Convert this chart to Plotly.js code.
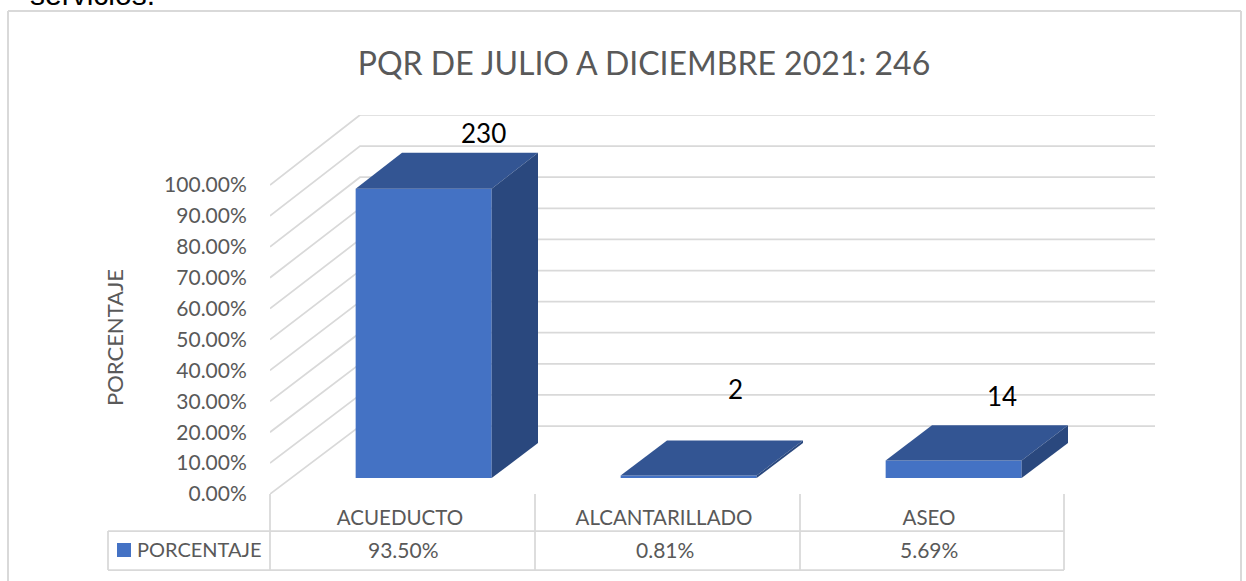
<!DOCTYPE html>
<html>
<head>
<meta charset="utf-8">
<script src="https://cdn.plot.ly/plotly-3.0.1.min.js"></script>
<style>html,body{margin:0;padding:0;background:#fff;overflow:hidden}#c{width:1246px;height:581px}</style>
</head>
<body>
<div id="c"></div>
<script>
// ---- data ----
const categories = ["ACUEDUCTO", "ALCANTARILLADO", "ASEO"];
const percentages = [93.50, 0.81, 5.69];
const counts = [230, 2, 14];
const tableLabels = ["93.50%", "0.81%", "5.69%"];
const gridValues = [0, 10, 20, 30, 40, 50, 60, 70, 80, 90, 100];
const gridLabels = ["0.00%", "10.00%", "20.00%", "30.00%", "40.00%", "50.00%", "60.00%", "70.00%", "80.00%", "90.00%", "100.00%"];
const seriesName = "PORCENTAJE";
const chartTitle = "PQR DE JULIO A DICIEMBRE 2021: 246";

// ---- layout geometry (pixels of the frame) ----
const W = 1246, H = 581;
const left = 270, floorY = 494, topY = 115, right = 1155;
const pxPerCat = 265, pxPerPct = 3.09;
const depthX = 90 / pxPerCat, depthY = 68 / pxPerPct, depthScale = 0.0065;
const barFront = 0.235, barBack = 0.75, barHalf = 0.2566;
const xMax = (right - left) / pxPerCat, yMax = (floorY - topY) / pxPerPct;

// oblique projection done in axis units
const px = (x, v, t) => x + t * depthX;
const py = (x, v, t) => v * (1 + depthScale * t) + t * depthY;
// page pixel -> axis / paper coordinates, for furniture outside the plot
const dataX = p => (p - left) / pxPerCat;
const paperY = p => (floorY - p) / (floorY - topY);
const paperX = p => (p - left) / (right - left);

const C = {front: "#4472C4", top: "#335593", side: "#2A487E", grid: "#D9D9D9", text: "#595959"};

function face(xs, vs, ts, color) {
  return {type: "scatter", mode: "none", fill: "toself", fillcolor: color, hoverinfo: "skip", showlegend: false,
    x: xs.map((x, i) => px(x, vs[i], ts[i])), y: xs.map((x, i) => py(x, vs[i], ts[i]))};
}

const traces = [{
  type: "bar", name: seriesName, showlegend: false,
  x: categories.map((c, i) => px(i + 0.5, 0, barFront)),
  y: percentages.map(v => py(0, v, barFront) - py(0, 0, barFront)),
  base: categories.map(() => py(0, 0, barFront)),
  width: barHalf * 2,
  marker: {color: C.front, line: {width: 0}}
}];
percentages.forEach((v, i) => {
  const a = i + 0.5 - barHalf, b = i + 0.5 + barHalf;
  traces.push(face([a, b, b, a, a], [v, v, v, v, v], [barFront, barFront, barBack, barBack, barFront], C.top));
  traces.push(face([b, b, b, b, b], [0, v, v, 0, 0], [barFront, barFront, barBack, barBack, barFront], C.side));
});

const shapes = [];
gridValues.forEach(v => {
  const path = [[0, v, 0], [0, v, 1], [3, v, 1]].map(
    (p, k) => (k ? "L" : "M") + px(p[0], p[1], p[2]) + "," + py(p[0], p[1], p[2])).join(" ");
  shapes.push({type: "path", layer: "below", xref: "x", yref: "y", path: path, line: {color: C.grid, width: 1.75}});
});
function rule(x0, y0, x1, y1, w) {
  shapes.push({type: "line", layer: "below", xref: "paper", yref: "paper",
    x0: paperX(x0), x1: paperX(x1), y0: paperY(y0), y1: paperY(y1), line: {color: C.grid, width: w || 1.75}});
}
[270, 535, 800, 1064].forEach(x => rule(x, 494, x, 570));
rule(108, 531, 1064, 531); rule(108, 570, 1064, 570); rule(108, 531, 108, 570);
rule(8, 11, 1241, 11, 2); rule(8, 11, 8, 581, 2); rule(1241, 11, 1241, 581, 2);
shapes.push({type: "rect", xref: "paper", yref: "paper", layer: "above", line: {width: 0}, fillcolor: C.front,
  x0: paperX(117), x1: paperX(131), y0: paperY(543), y1: paperY(557)});

const FONT = "Lato, 'Open Sans', sans-serif";
const annotations = [];
function note(text, x, y, size, color, extra) {
  annotations.push(Object.assign({text: text, xref: "paper", yref: "paper", x: paperX(x), y: paperY(y),
    showarrow: false, xanchor: "center", yanchor: "middle", font: {family: FONT, size: size, color: color}}, extra || {}));
}
const labelX = [483, 735, 1002], labelY = [133, 389, 396];
counts.forEach((n, i) => note(String(n), labelX[i], labelY[i], 26, "#000000"));
const tableX = [403, 665, 929];
tableLabels.forEach((t, i) => note(t, tableX[i], 549, 21, C.text));
note(seriesName, 199.5, 549, 20, C.text);
note(seriesName, 114, 338, 22, C.text, {textangle: -90});
note("servicios.", 28, 13, 30, "#000000", {xanchor: "left", yanchor: "bottom",
  font: {family: "'Liberation Sans', Arial, sans-serif", size: 30, color: "#000000"}});

const layout = {
  width: W, height: H, paper_bgcolor: "#fff", plot_bgcolor: "rgba(0,0,0,0)",
  margin: {l: left, r: W - right, t: topY, b: H - floorY, pad: 0},
  showlegend: false, barmode: "overlay",
  title: {text: chartTitle, x: 644 / W, xanchor: "center", y: 1 - 64 / H, yanchor: "middle",
    font: {family: FONT, size: 32, color: C.text}},
  xaxis: {range: [0, xMax], showgrid: false, zeroline: false, showline: false,
    tickmode: "array", tickvals: [400, 664, 929].map(dataX), ticktext: categories, ticks: "outside", ticklen: 5,
    tickcolor: "rgba(0,0,0,0)", tickfont: {family: FONT, size: 20.5, color: C.text}},
  yaxis: {range: [0, yMax], showgrid: false, zeroline: false, showline: false,
    tickmode: "array", tickvals: gridValues, ticktext: gridLabels, ticks: "outside", ticklen: 18,
    tickcolor: "rgba(0,0,0,0)", tickfont: {family: FONT, size: 21, color: C.text}},
  shapes: shapes, annotations: annotations
};
Plotly.newPlot("c", traces, layout, {displayModeBar: false, staticPlot: true});
</script>
</body>
</html>
